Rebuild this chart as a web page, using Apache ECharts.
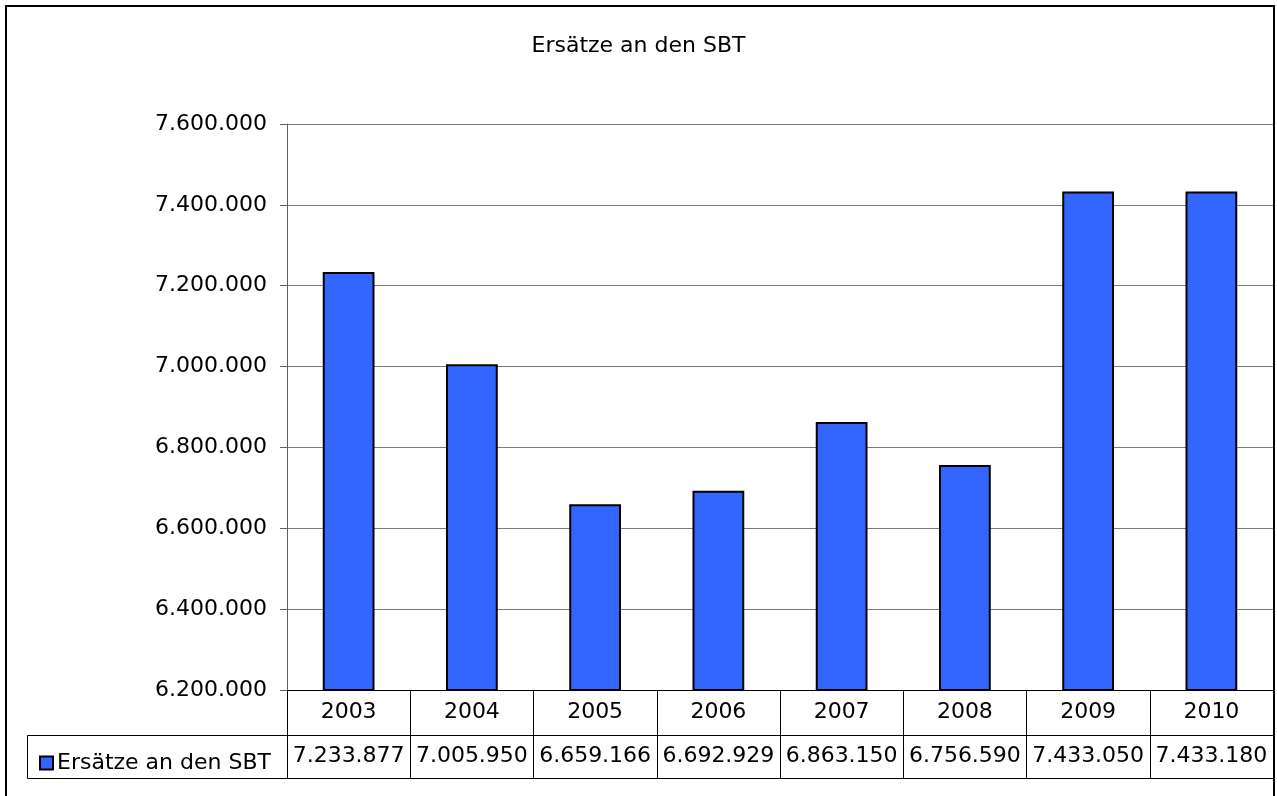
<!DOCTYPE html>
<html>
<head>
<meta charset="utf-8">
<script src="https://cdn.jsdelivr.net/npm/echarts@6/dist/echarts.min.js"></script>
<style>
  html, body { margin: 0; padding: 0; background: #fff; }
  #chart { width: 1277px; height: 796px; }
</style>
</head>
<body>
<div id="chart"></div>
<script>
var years = ['2003', '2004', '2005', '2006', '2007', '2008', '2009', '2010']
var ersaetze = [7233877, 7005950, 6659166, 6692929, 6863150, 6756590, 7433050, 7433180]
var seriesName = 'Ersätze an den SBT'

// Tausenderpunkte wie im Original
function fmt(v) {
  return String(v).replace(/\B(?=(\d{3})+(?!\d))/g, '.')
}

var font = 'DejaVu Sans'
var chart = echarts.init(document.getElementById('chart'))
chart.setOption({
  backgroundColor: '#fff',
  animation: false,
  textStyle: { fontFamily: font },
  title: {
    text: 'Ersätze an den SBT',
    left: 'center',
    top: 30,
    textStyle: { fontFamily: font, fontSize: 22, fontWeight: 'normal', color: '#000' }
  },
  legend: {
    left: 34,
    top: 747,
    icon: 'rect',
    itemWidth: 13,
    itemHeight: 13,
    itemGap: 4,
    textStyle: { fontFamily: font, fontSize: 22, color: '#000', padding: [0, 0, 0, -1] },
    data: [seriesName]
  },
  grid: { left: 287, top: 124, right: 4, bottom: 106 },
  xAxis: [
    {
      type: 'category',
      data: years,
      position: 'bottom',
      axisLine: { lineStyle: { color: '#000', width: 1 } },
      axisTick: { show: true, length: 88, lineStyle: { color: '#000' } },
      axisLabel: { fontSize: 22, color: '#000', margin: 11, interval: 0, fontFamily: font }
    },
    {
      type: 'category',
      data: years,
      position: 'bottom',
      offset: 45,
      axisLine: { lineStyle: { color: '#000', width: 1 } },
      axisTick: { show: false },
      axisLabel: {
        fontSize: 22, color: '#000', margin: 10, interval: 0, hideOverlap: false, fontFamily: font,
        formatter: function(v, i) { return fmt(ersaetze[i]) }
      }
    },
    {
      type: 'category',
      data: years,
      position: 'bottom',
      offset: 88,
      axisLine: { lineStyle: { color: '#000', width: 1 } },
      axisTick: { show: false },
      axisLabel: { show: false }
    }
  ],
  yAxis: {
    type: 'value',
    min: 6200000,
    max: 7600000,
    interval: 200000,
    axisLine: { show: true, lineStyle: { color: '#606060' } },
    axisTick: { show: true, length: 7, lineStyle: { color: '#606060' } },
    splitLine: { lineStyle: { color: '#7a7a7a' } },
    axisLabel: {
      fontSize: 22, color: '#000', margin: 20, fontFamily: font,
      formatter: function(v) { return fmt(v) }
    }
  },
  series: [{
    name: seriesName,
    type: 'bar',
    data: ersaetze,
    barWidth: '42%',
    itemStyle: { color: '#3366ff', borderColor: '#000', borderWidth: 2 }
  }],
  graphic: [
    {
      type: 'rect',
      shape: { x: 6, y: 6, width: 1268, height: 900 },
      style: { fill: 'none', stroke: '#000', lineWidth: 2 },
      silent: true
    },
    {
      type: 'polyline',
      shape: { points: [[287, 735.5], [27.5, 735.5], [27.5, 778.5], [287, 778.5]] },
      style: { fill: 'none', stroke: '#000', lineWidth: 1 },
      silent: true
    }
  ]
})
</script>
</body>
</html>
